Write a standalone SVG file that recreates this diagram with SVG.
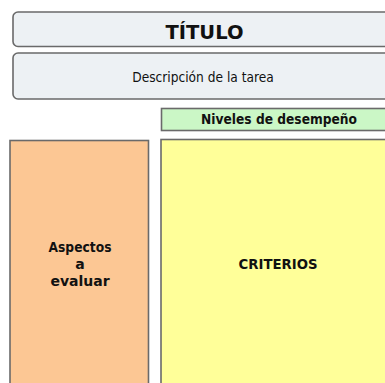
<svg xmlns="http://www.w3.org/2000/svg" width="385" height="383" viewBox="0 0 385 383">
<style>
.box{stroke:#6a6a6a;stroke-width:1.6}
.hdr{fill:#edf1f4}
.t{font-family:"DejaVu Sans",Verdana,sans-serif;fill:#111111;text-anchor:middle}
.b{font-weight:bold}
</style>
<rect width="385" height="383" fill="#ffffff"/>
<g id="titulo">
<rect class="box hdr" x="13" y="12" width="400" height="34.5" rx="5"/>
<text class="t b" x="204.5" y="39" font-size="20" textLength="78" lengthAdjust="spacingAndGlyphs">TÍTULO</text>
</g>
<g id="descripcion">
<rect class="box hdr" x="13" y="53" width="400" height="46" rx="5"/>
<text class="t" x="203" y="82" font-size="13.5" textLength="141.5" lengthAdjust="spacingAndGlyphs">Descripción de la tarea</text>
</g>
<g id="niveles">
<rect class="box" x="161.5" y="108.5" width="240" height="22" fill="#cbf7c6" stroke="#7b8b7b"/>
<text class="t b" x="279" y="124" font-size="13.5" textLength="156" lengthAdjust="spacingAndGlyphs">Niveles de desempeño</text>
</g>
<g id="aspectos">
<rect class="box" x="10" y="140.5" width="138.5" height="260" fill="#fcc794"/>
<text class="t b" font-size="14"><tspan x="80" y="252" textLength="63" lengthAdjust="spacingAndGlyphs">Aspectos</tspan><tspan x="80" y="269">a</tspan><tspan x="80" y="286">evaluar</tspan></text>
</g>
<g id="criterios">
<rect class="box" x="161" y="139.5" width="240" height="260" fill="#ffff99"/>
<text class="t b" x="278" y="268.5" font-size="14.5" textLength="79" lengthAdjust="spacingAndGlyphs">CRITERIOS</text>
</g>
<g id="connectors"/>
</svg>
